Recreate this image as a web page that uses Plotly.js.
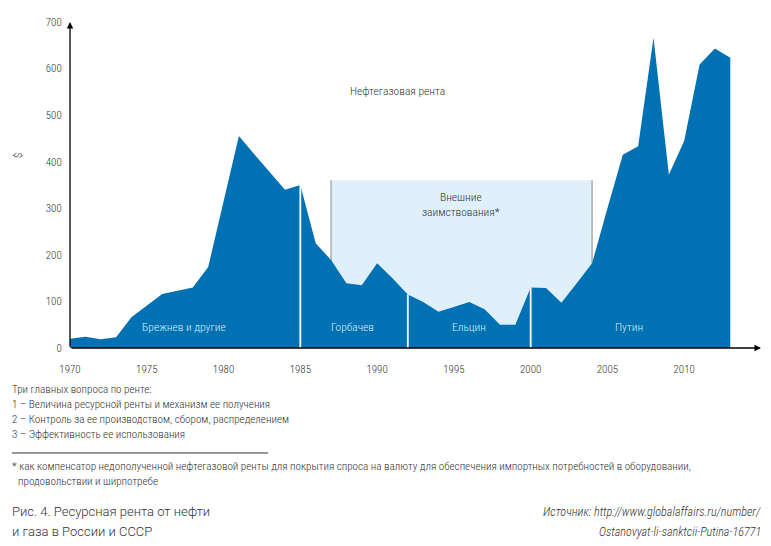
<!DOCTYPE html>
<html>
<head>
<meta charset="utf-8">
<script src="https://cdn.plot.ly/plotly-3.0.1.min.js"></script>
<style>
  html, body { margin: 0; padding: 0; background: #fff; }
  #chart { width: 771px; height: 546px; }
</style>
</head>
<body>
<div id="chart"></div>
<script>
// ---- data ----
const years = [1970,1971,1972,1973,1974,1975,1976,1977,1978,1979,
               1980,1981,1982,1983,1984,1985,1986,1987,1988,1989,
               1990,1991,1992,1993,1994,1995,1996,1997,1998,1999,
               2000,2001,2002,2003,2004,2005,2006,2007,2008,2009,
               2010,2011,2012,2013];
const rent = [20,24,19,23,66,91,116,123,130,174,
              315,455,416,378,340,350,225,189,139,135,
              182,150,115,99,78,88,99,83,50,50,
              130,129,97,139,182,300,415,433,666,372,
              445,609,643,623];
const eraStarts = [1985, 1992, 2000];          // white dividers between leaders
const eraNames = ["Брежнев и другие", "Горбачев", "Ельцин", "Путин"];
const borrowStart = 1987, borrowEnd = 2004, borrowTop = 360;  // external borrowing block
const yTicks = [0,100,200,300,400,500,600,700];
const xTicks = [1970,1975,1980,1985,1990,1995,2000,2005,2010];

const FONT = "'Roboto Condensed', 'Liberation Sans Narrow', 'Roboto', sans-serif";
const TXT = "#333333";
const DARK = "#0071b3";

const trace = {
  x: years, y: rent, type: "scatter", mode: "lines",
  fill: "tozeroy", fillcolor: DARK,
  line: {width: 0, color: DARK}, hoverinfo: "x+y", showlegend: false
};

const valueAt = yr => rent[years.indexOf(yr)];

const shapes = [
  {type: "rect", xref: "x", yref: "y", x0: borrowStart, x1: borrowEnd, y0: 0, y1: borrowTop,
   fillcolor: "#dff0fb", line: {width: 0}, layer: "below"},
  {type: "line", xref: "x", yref: "y", x0: borrowStart, x1: borrowStart, y0: 0, y1: borrowTop,
   line: {color: "#9a9a9a", width: 1.2}, layer: "below"},
  {type: "line", xref: "x", yref: "y", x0: borrowEnd, x1: borrowEnd, y0: 0, y1: borrowTop,
   line: {color: "#9a9a9a", width: 1.2}, layer: "below"},
  {type: "line", xref: "paper", yref: "paper", x0: -0.0839, x1: 0.2865, y0: -0.322, y1: -0.322,
   line: {color: "#333", width: 1}}
];
eraStarts.forEach(yr => shapes.push({
  type: "line", xref: "x", yref: "y", x0: yr, x1: yr, y0: 0, y1: valueAt(yr),
  line: {color: "#ffffff", width: 1.8}, layer: "above"
}));

const W = 300;
const eraX = [1977.4, 1988.4, 1996.0, 2006.4];
const annotations = [];
eraNames.forEach((n, i) => annotations.push({
  x: eraX[i], y: 0.037, xref: "x", yref: "paper", text: n, showarrow: false,
  font: {family: FONT, size: 11.5, color: "#dcecf7", weight: W}
}));
annotations.push(
  {x: 1991.35, y: 0.817, xref: "x", yref: "paper", text: "Нефтегазовая рента", showarrow: false,
   font: {family: FONT, size: 11.5, color: TXT, weight: W}},
  {x: 1995.46, y: 0.439, xref: "x", yref: "paper", text: "Внешние<br>заимствования*", showarrow: false,
   font: {family: FONT, size: 11.5, color: TXT, weight: W}},
  {x: -0.086, y: 0.589, xref: "paper", yref: "paper", text: "$", textangle: -90, showarrow: false,
   font: {family: FONT, size: 11, color: TXT, weight: W}},
  // axis arrows
  {x: 2015, y: 0, ax: 1970, ay: 0, xref: "x", yref: "y", axref: "x", ayref: "y", text: "",
   showarrow: true, arrowhead: 2, arrowsize: 1, arrowwidth: 1.3, arrowcolor: "#000", standoff: 0},
  {x: 1970, y: 700, ax: 1970, ay: 0, xref: "x", yref: "y", axref: "x", ayref: "y", text: "",
   showarrow: true, arrowhead: 2, arrowsize: 1, arrowwidth: 1.3, arrowcolor: "#000", standoff: 0}
);

const notes = [
  ["Три главных вопроса по ренте:", -0.126, -0.0868],
  ["1 – Величина ресурсной ренты и механизм ее получения", -0.173, -0.0868],
  ["2 – Контроль за ее производством, сбором, распределением", -0.219, -0.0868],
  ["3 – Эффективность ее использования", -0.265, -0.0868],
  ["* как компенсатор недополученной нефтегазовой ренты для покрытия спроса на валюту для обеспечения импортных потребностей в оборудовании,", -0.365, -0.0868],
  ["продовольствии и ширпотребе", -0.411, -0.0781]
];
notes.forEach(([t, y, x]) => annotations.push({
  x: x, y: y, xref: "paper", yref: "paper", xanchor: "left", yanchor: "middle", text: t,
  showarrow: false, font: {family: FONT, size: 11.1, color: TXT, weight: W}
}));
const captionFont = {family: "'Roboto', sans-serif", size: 13, color: TXT, weight: W};
const sourceFont = {family: FONT, size: 12.2, color: TXT, weight: W, style: "italic"};
annotations.push(
  {x: -0.0868, y: -0.503, xref: "paper", yref: "paper", xanchor: "left", yanchor: "middle",
   text: "Рис. 4. Ресурсная рента от нефти", showarrow: false, font: captionFont},
  {x: -0.0868, y: -0.564, xref: "paper", yref: "paper", xanchor: "left", yanchor: "middle",
   text: "и газа в России и СССР", showarrow: false, font: captionFont},
  {x: 1.003, y: -0.503, xref: "paper", yref: "paper", xanchor: "right", yanchor: "middle",
   text: "Источник: http://www.globalaffairs.ru/number/", showarrow: false, font: sourceFont},
  {x: 1.003, y: -0.564, xref: "paper", yref: "paper", xanchor: "right", yanchor: "middle",
   text: "Ostanovyat-li-sanktcii-Putina-16771", showarrow: false, font: sourceFont}
);

const layout = {
  width: 771, height: 546,
  margin: {l: 70, r: 10, t: 22, b: 198},
  paper_bgcolor: "#fff", plot_bgcolor: "#fff",
  showlegend: false,
  xaxis: {range: [1970, 2015], tickvals: xTicks, ticktext: xTicks.map(String),
          showgrid: false, zeroline: false, showline: false,
          ticks: "outside", ticklen: 11, tickcolor: "rgba(0,0,0,0)",
          tickfont: {family: FONT, size: 11, color: TXT, weight: W}},
  yaxis: {range: [0, 700], tickvals: yTicks, ticktext: yTicks.map(String),
          showgrid: false, zeroline: false, showline: false,
          ticks: "outside", ticklen: 5, tickcolor: "rgba(0,0,0,0)",
          tickfont: {family: FONT, size: 11, color: TXT, weight: W}},
  shapes: shapes,
  annotations: annotations
};

Plotly.newPlot("chart", [trace], layout, {displayModeBar: false, staticPlot: true});
</script>
</body>
</html>
